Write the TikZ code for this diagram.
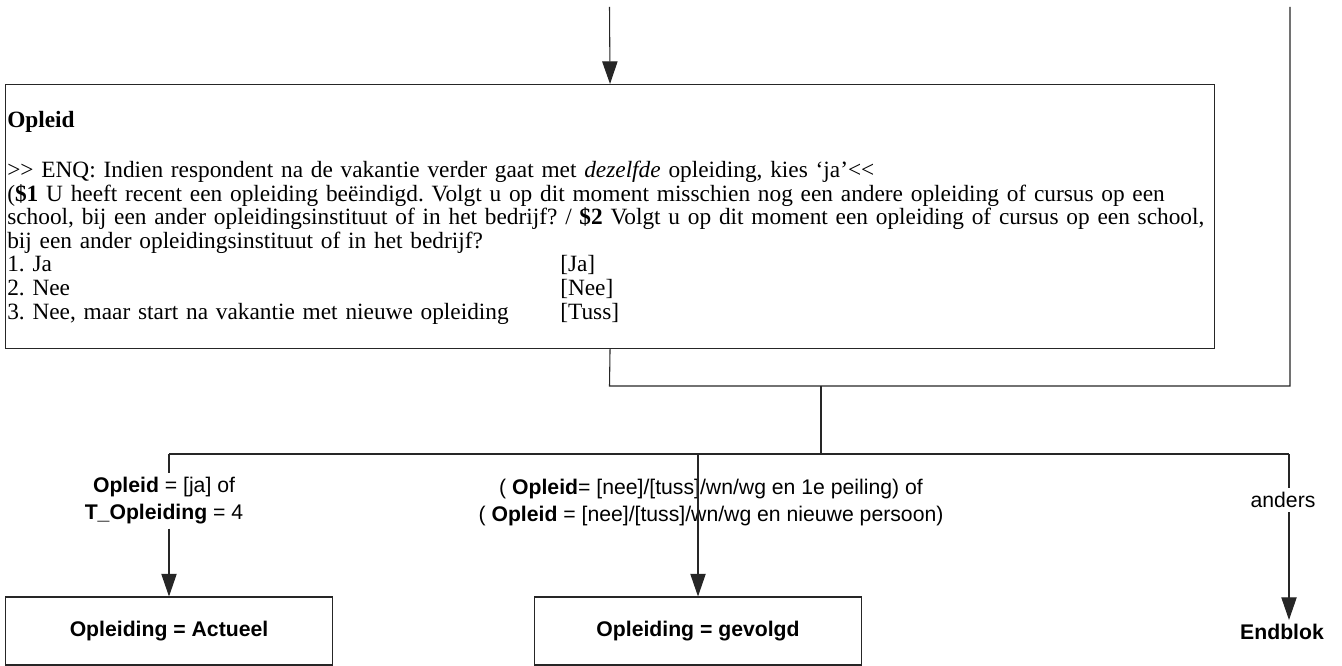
\documentclass[tikz,border=0pt]{standalone}
\usepackage{fontspec}
\setmainfont{Liberation Serif}
\newfontfamily\arialfont{Liberation Sans}
\usetikzlibrary{arrows.meta}
\frenchspacing
\tikzset{
  ln/.style={line width=0.8pt, draw=black!85},
  arr/.style={ln, -{Triangle[length=17pt,width=11.5pt]}},
  mainbox/.style={ln, draw, inner sep=0pt, minimum width=906.75pt, minimum height=198pt, anchor=north west},
  bodytext/.style={inner sep=0pt, anchor=north west, align=left, text width=940pt,
    font={\frenchspacing\fontsize{17.5pt}{17.7pt}\selectfont}},
  resbox/.style={ln, draw, inner sep=0pt, minimum width=245pt, minimum height=51pt,
    font={\arialfont\bfseries\fontsize{15.9pt}{20.25pt}\selectfont}},
  lbl/.style={inner sep=3pt, align=center, font={\arialfont\fontsize{15.9pt}{20.25pt}\selectfont}},
  endtext/.style={inner sep=3pt, font={\arialfont\bfseries\fontsize{15.9pt}{20.25pt}\selectfont}}
}
\begin{document}
\begin{tikzpicture}[x=0.75pt, y=-0.75pt]
\useasboundingbox (0,0) rectangle (1342,666);
% main question box
\node[mainbox] (opleid) at (5,84) {};
\node[bodytext] (opleidtext) at (7,111) {\textbf{Opleid}\\[19.8pt]
>\kern0pt> ENQ: Indien respondent na de vakantie verder gaat met \textit{dezelfde} opleiding, kies ‘ja’<\kern0pt<\\
(\textbf{\$1} U heeft recent een opleiding beëindigd. Volgt u op dit moment misschien nog een andere opleiding of cursus op een\\
school, bij een ander opleidingsinstituut of in het bedrijf? / \textbf{\$2} Volgt u op dit moment een opleiding of cursus op een school,\\
bij een ander opleidingsinstituut of in het bedrijf?\\
\makebox[23.7em][l]{1. Ja}[Ja]\\
\makebox[23.7em][l]{2. Nee}[Nee]\\
\makebox[23.7em][l]{3. Nee, maar start na vakantie met nieuwe opleiding}[Tuss]};
% coordinates
\coordinate (top) at (609.5,7);
\coordinate (j1) at (609.5,386);
\coordinate (j1r) at (1290,386);
\coordinate (rtop) at (1290,7);
\coordinate (j2) at (821,386);
\coordinate (j3) at (821,454);
\coordinate (jA) at (169,454);
\coordinate (jB) at (698,454);
\coordinate (jC) at (1289,454);
% result nodes
\node[resbox] (boxA) at (169,631) {Opleiding = Actueel};
\node[resbox] (boxB) at (698,631) {Opleiding = gevolgd};
\node[endtext] (endblok) at (1282,632) {Endblok};
% labels
\node[lbl] (lblA) at (164,501) {\textbf{Opleid} = [ja] of\\\textbf{T\_Opleiding} = 4};
\node[lbl] (lblB) at (711,503) {( \textbf{Opleid}= [nee]/[tuss]/wn/wg en 1e peiling) of\\( \textbf{Opleid} = [nee]/[tuss]/wn/wg en nieuwe persoon)};
\node[lbl] (lblC) at (1283,500) {anders};
% connectors
\draw[arr] (top) -- (opleid.north);
\draw[ln] (opleid.south) -- (j1) -- (j1r) -- (rtop);
\draw[ln] (j2) -- (j3);
\draw[ln] (jA) -- (jC);
\draw[ln] (jA) -- (jA |- lblA.north);
\draw[arr] (jA |- lblA.south) -- (boxA.north);
\draw[arr] (jB) -- (boxB.north);
\draw[ln] (jC) -- (jC |- lblC.north);
\draw[arr] (jC |- lblC.south) -- (jC |- endblok.north);
\end{tikzpicture}
\end{document}
